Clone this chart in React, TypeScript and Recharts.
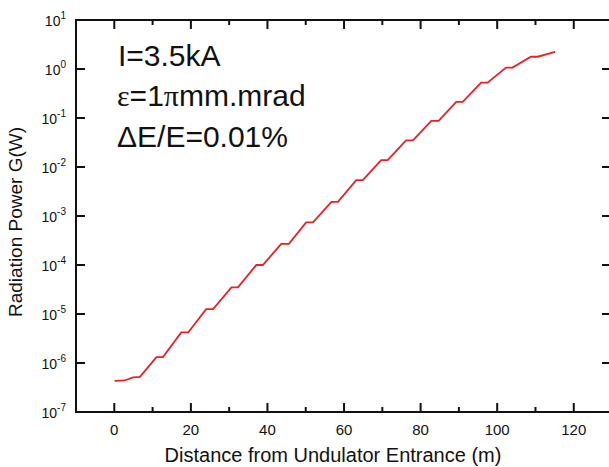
import React from 'react';
import { LineChart, Line, XAxis, YAxis, Label, ReferenceLine } from 'recharts';

const distance = [0.1, 2.7, 4.9, 6.7, 11.0, 12.7, 17.5, 19.3, 24.0, 25.8, 30.6, 32.3, 37.1, 38.8, 43.6, 45.6, 50.1, 51.9, 56.7, 58.4, 63.2, 64.9, 69.7, 71.4, 76.2, 78.0, 82.8, 84.7, 89.3, 91.0, 95.8, 97.5, 102.3, 104.0, 108.8, 110.6, 115.1];
const power = [4.3e-7, 4.4e-7, 5.1e-7, 5.2e-7, 1.32e-6, 1.32e-6, 4.2e-6, 4.2e-6, 1.26e-5, 1.26e-5, 3.5e-5, 3.5e-5, 1.0e-4, 1.0e-4, 2.7e-4, 2.7e-4, 7.4e-4, 7.4e-4, 1.95e-3, 1.95e-3, 5.4e-3, 5.4e-3, 1.38e-2, 1.38e-2, 3.5e-2, 3.5e-2, 8.7e-2, 8.7e-2, 0.214, 0.214, 0.525, 0.525, 1.07, 1.07, 1.78, 1.78, 2.24];

const xTicks = [0, 10, 20, 30, 40, 50, 60, 70, 80, 90, 100, 110, 120];
const yTicks = [1e-7, 1e-6, 1e-5, 1e-4, 1e-3, 1e-2, 1e-1, 1e0, 1e1];
const annotation = ['I=3.5kA', 'ε=1πmm.mrad', 'ΔE/E=0.01%'];
const xTitle = 'Distance from Undulator Entrance (m)';
const yTitle = 'Radiation Power G(W)';

const data = distance.map((d, i) => ({ distance: d, power: power[i] }));

const FONT = '"Liberation Sans", Arial, sans-serif';
const SERIF = '"Liberation Serif", "Times New Roman", serif';
const INK = '#111111';
const PL = 76, PT = 20;
const X_DOMAIN: [number, number] = [-10, 129.2];
const Y_DOMAIN: [number, number] = [1e-7, 10];

const isMajor = (v: number) => Math.abs(v % 20) < 1e-9;

const BottomTick = (props: any) => {
  const { x, payload } = props;
  const v = payload.value;
  if (!isMajor(v)) return <g />;
  return (
    <text x={x} y={435} textAnchor="middle" fontSize={15} fontFamily={FONT} fill={INK}>
      {v}
    </text>
  );
};

const LeftTick = (props: any) => {
  const { y, payload } = props;
  const exp = Math.round(Math.log10(payload.value));
  return (
    <text x={66} y={y + 6} textAnchor="end" fontFamily={FONT} fill={INK}>
      <tspan fontSize={14}>10</tspan>
      <tspan fontSize={10} dy={-7}>{String(exp)}</tspan>
    </text>
  );
};

const xTickShape = (v: number) => (p: any) => {
  const yb = Math.max(p.y1, p.y2);
  const yt = Math.min(p.y1, p.y2);
  const len = isMajor(v) ? 9 : 5;
  return (
    <g>
      <rect x={p.x1 - 1} y={yb - len} width={2} height={len + 1} fill={INK} />
      <rect x={p.x1 - 1} y={yt - 1} width={2} height={len + 1} fill={INK} />
    </g>
  );
};

const yTickShape = (p: any) => {
  const xl = Math.min(p.x1, p.x2);
  const xr = Math.max(p.x1, p.x2);
  return (
    <g>
      <rect x={xl - 1} y={p.y1 - 1} width={10} height={2} fill={INK} />
      <rect x={xr - 7} y={p.y1 - 1} width={7} height={2} fill={INK} />
    </g>
  );
};

const frameH = (p: any) => (
  <rect x={Math.min(p.x1, p.x2) - 1} y={p.y1 - 1} width={Math.abs(p.x2 - p.x1) + 1} height={2} fill={INK} />
);
const frameV = (p: any) => (
  <rect x={p.x1 - 1} y={Math.min(p.y1, p.y2) - 1} width={2} height={Math.abs(p.y2 - p.y1) + 2} fill={INK} />
);

export default function App() {
  return (
    <div style={{ position: 'absolute', left: 0, top: 0, width: 609, height: 467, background: '#fff' }}>
      <LineChart width={609} height={467} data={data} margin={{ top: PT, right: 0, bottom: 0, left: 0 }}>
        <XAxis
          xAxisId="bottom"
          dataKey="distance"
          type="number"
          domain={X_DOMAIN}
          ticks={xTicks}
          allowDataOverflow
          height={55}
          axisLine={false}
          tickLine={false}
          tick={<BottomTick />}
          interval={0}
        >
          <Label
            content={() => (
              <text x={333} y={462} textAnchor="middle" fontSize={20} fontFamily={FONT} fill={INK}>
                {xTitle}
              </text>
            )}
          />
        </XAxis>
        <YAxis
          yAxisId="left"
          dataKey="power"
          scale="log"
          type="number"
          domain={Y_DOMAIN}
          ticks={yTicks}
          allowDataOverflow
          width={PL}
          axisLine={false}
          tickLine={false}
          tick={<LeftTick />}
          interval={0}
        >
          <Label
            content={() => (
              <text
                x={22}
                y={222}
                transform="rotate(-90 22 222)"
                textAnchor="middle"
                fontSize={19}
                fontFamily={FONT}
                fill={INK}
              >
                {yTitle}
              </text>
            )}
          />
        </YAxis>
        <Line
          xAxisId="bottom"
          yAxisId="left"
          dataKey="power"
          type="linear"
          stroke="#e82127"
          strokeWidth={1.8}
          dot={false}
          isAnimationActive={false}
        />
        {xTicks.map((v) => (
          <ReferenceLine key={`xt${v}`} xAxisId="bottom" yAxisId="left" x={v} ifOverflow="visible" shape={xTickShape(v)} zIndex={900} />
        ))}
        {yTicks.map((v) => (
          <ReferenceLine key={`yt${v}`} xAxisId="bottom" yAxisId="left" y={v} ifOverflow="visible" shape={yTickShape} zIndex={900} />
        ))}
        <ReferenceLine xAxisId="bottom" yAxisId="left" y={Y_DOMAIN[1]} ifOverflow="visible" shape={frameH} zIndex={900} />
        <ReferenceLine xAxisId="bottom" yAxisId="left" y={Y_DOMAIN[0]} ifOverflow="visible" shape={frameH} zIndex={900} />
        <ReferenceLine xAxisId="bottom" yAxisId="left" x={X_DOMAIN[0]} ifOverflow="visible" shape={frameV} zIndex={900} />
        <text fontFamily={FONT} fontSize={30} fill={INK}>
          <tspan x={118} y={66}>{annotation[0]}</tspan>
        </text>
        <text fontFamily={FONT} fontSize={30} fill={INK} x={117} y={106}>
          <tspan fontFamily={SERIF}>{annotation[1].slice(0, 1)}</tspan>
          <tspan>{annotation[1].slice(1, 3)}</tspan>
          <tspan fontFamily={SERIF}>{annotation[1].slice(3, 4)}</tspan>
          <tspan>{annotation[1].slice(4)}</tspan>
        </text>
        <text fontFamily={FONT} fontSize={30} fill={INK} x={117} y={147}>
          {annotation[2]}
        </text>
      </LineChart>
    </div>
  );
}
